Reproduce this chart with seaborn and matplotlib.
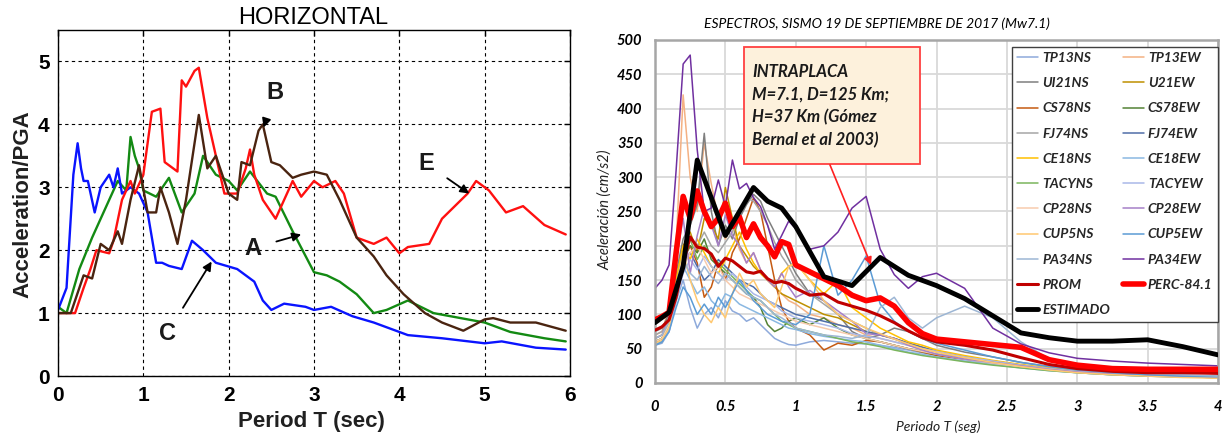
import matplotlib
matplotlib.use("Agg")
import matplotlib.pyplot as plt
import seaborn as sns
from matplotlib.patches import Rectangle
from matplotlib.font_manager import FontProperties

sns.set_theme(style="white")
plt.rcParams["font.family"] = ["Liberation Sans", "DejaVu Sans"]

# ---------------- LEFT PANEL DATA (Acceleration/PGA vs Period) ----------------
A_T = [0, 0.1, 0.25, 0.4, 0.5, 0.6, 0.7, 0.8, 0.85, 0.9,
       0.95, 1.0, 1.15, 1.3, 1.45, 1.6, 1.7, 1.85, 2.0, 2.1,
       2.25, 2.45, 2.55, 2.75, 3.0, 3.15, 3.3, 3.5, 3.7, 3.85,
       4.1, 4.4, 4.8, 5.0, 5.3, 5.7, 5.95]
A_V = [1.1, 1.0, 1.7, 2.2, 2.5, 2.8, 3.1, 2.95, 3.8, 3.5,
       3.3, 2.95, 2.85, 3.15, 2.6, 2.9, 3.5, 3.2, 3.1, 2.95,
       3.25, 2.9, 2.85, 2.3, 1.65, 1.6, 1.5, 1.3, 1.0, 1.05,
       1.2, 1.0, 0.9, 0.85, 0.7, 0.6, 0.55]

B_T = [0, 0.15, 0.3, 0.4, 0.5, 0.6, 0.7, 0.75, 0.85, 0.95,
       1.05, 1.15, 1.2, 1.3, 1.4, 1.5, 1.65, 1.75, 1.85, 2.0,
       2.1, 2.15, 2.25, 2.35, 2.4, 2.5, 2.6, 2.75, 2.85, 3.0,
       3.15, 3.3, 3.5, 3.7, 3.85, 4.05, 4.3, 4.5, 4.75, 5.0,
       5.1, 5.3, 5.6, 5.95]
B_V = [1.0, 1.0, 1.6, 1.55, 2.1, 2.0, 2.3, 2.1, 2.8, 3.35,
       2.6, 2.6, 3.0, 2.6, 2.1, 2.8, 4.15, 3.3, 3.5, 2.9,
       2.8, 3.4, 3.35, 3.9, 4.0, 3.4, 3.35, 3.15, 3.2, 3.25,
       3.2, 2.8, 2.2, 1.9, 1.6, 1.3, 1.0, 0.85, 0.72, 0.9,
       0.92, 0.85, 0.85, 0.72]

C_T = [0, 0.1, 0.18, 0.23, 0.27, 0.3, 0.35, 0.43, 0.5, 0.6,
       0.65, 0.7, 0.75, 0.85, 0.95, 1.05, 1.15, 1.22, 1.3, 1.45,
       1.57, 1.7, 1.85, 2.1, 2.3, 2.4, 2.5, 2.65, 2.9, 3.0,
       3.2, 3.45, 3.7, 3.9, 4.1, 4.5, 5.0, 5.2, 5.6, 5.95]
C_V = [1.05, 1.4, 3.2, 3.7, 3.3, 3.1, 3.1, 2.6, 3.0, 3.2,
       3.0, 3.3, 2.9, 3.0, 2.9, 2.6, 1.8, 1.8, 1.75, 1.7,
       2.15, 2.0, 1.8, 1.7, 1.5, 1.2, 1.05, 1.15, 1.1, 1.05,
       1.1, 0.95, 0.85, 0.75, 0.65, 0.6, 0.52, 0.55, 0.45, 0.42]

E_T = [0, 0.2, 0.3, 0.38, 0.45, 0.6, 0.65, 0.75, 0.85, 0.9,
       1.0, 1.1, 1.2, 1.25, 1.4, 1.45, 1.5, 1.6, 1.65, 1.75,
       1.85, 1.95, 2.1, 2.2, 2.25, 2.3, 2.4, 2.55, 2.65, 2.75,
       2.85, 3.0, 3.1, 3.25, 3.35, 3.5, 3.7, 3.85, 4.0, 4.1,
       4.35, 4.5, 4.65, 4.8, 4.9, 5.05, 5.25, 5.45, 5.7, 5.95]
E_V = [1.0, 1.0, 1.4, 1.7, 2.0, 1.95, 2.15, 2.8, 3.1, 2.9,
       3.2, 4.2, 4.25, 3.4, 3.25, 4.7, 4.6, 4.85, 4.9, 4.1,
       3.5, 2.9, 2.9, 3.3, 3.6, 3.2, 2.8, 2.5, 2.8, 3.1,
       2.85, 3.1, 3.0, 3.1, 2.9, 2.2, 2.1, 2.2, 1.95, 2.05,
       2.1, 2.5, 2.7, 2.9, 3.1, 2.95, 2.6, 2.7, 2.4, 2.25]

LEFT_X_TICKS = [0, 1, 2, 3, 4, 5, 6]
LEFT_Y_TICKS = [0, 1, 2, 3, 4, 5]

# ---------------- RIGHT PANEL DATA (spectra, cm/s2 vs period) ----------------
T = [0.0, 0.05, 0.1, 0.15, 0.2, 0.25, 0.3, 0.35, 0.4, 0.45,
     0.5, 0.55, 0.6, 0.65, 0.7, 0.75, 0.8, 0.85, 0.9, 0.95,
     1.0, 1.1, 1.2, 1.3, 1.4, 1.5, 1.6, 1.7, 1.8, 1.9,
     2.0, 2.2, 2.4, 2.6, 2.8, 3.0, 3.25, 3.5, 3.75, 4.0]

TP13NS = [55, 58, 75, 120, 150, 110, 80, 100, 110, 95,
          120, 105, 100, 90, 95, 85, 75, 65, 60, 56,
          55, 60, 62, 60, 58, 57, 55, 52, 48, 44,
          40, 34, 28, 23, 19, 15, 12, 10, 9, 8]
TP13EW = [70, 75, 110, 200, 420, 300, 250, 350, 290, 240,
          210, 230, 195, 175, 190, 165, 150, 140, 130, 120,
          115, 100, 95, 85, 80, 70, 65, 60, 55, 50,
          45, 38, 30, 25, 20, 16, 13, 11, 9, 8]
UI21NS = [75, 80, 100, 160, 210, 230, 260, 364, 250, 200,
          230, 210, 240, 260, 275, 265, 240, 220, 200, 180,
          160, 130, 120, 100, 75, 65, 70, 80, 75, 65,
          55, 45, 38, 30, 24, 19, 15, 12, 11, 10]
U21EW = [65, 70, 90, 150, 200, 220, 190, 240, 230, 210,
         285, 240, 200, 185, 170, 160, 150, 140, 130, 125,
         120, 110, 100, 95, 85, 75, 70, 65, 58, 52,
         46, 38, 32, 26, 21, 17, 14, 12, 10, 9]
CS78NS = [60, 65, 85, 140, 180, 200, 175, 125, 140, 175,
          150, 190, 210, 240, 270, 250, 200, 150, 110, 90,
          80, 70, 48, 58, 55, 62, 60, 55, 50, 45,
          40, 35, 30, 25, 20, 16, 13, 11, 9, 8]
CS78EW = [55, 60, 80, 130, 180, 200, 190, 210, 180, 170,
          160, 150, 140, 130, 125, 110, 85, 75, 80, 90,
          95, 85, 95, 80, 70, 65, 60, 55, 50, 46,
          42, 36, 30, 25, 20, 16, 13, 11, 9, 8]
FJ74NS = [70, 75, 95, 150, 190, 210, 200, 220, 200, 190,
          205, 220, 250, 270, 265, 250, 230, 205, 185, 170,
          150, 130, 115, 100, 90, 80, 70, 64, 57, 51,
          46, 38, 32, 26, 21, 17, 14, 12, 10, 9]
FJ74EW = [60, 65, 85, 140, 175, 190, 170, 150, 160, 180,
          170, 160, 150, 145, 140, 130, 120, 115, 110, 105,
          100, 95, 90, 85, 80, 75, 70, 65, 58, 52,
          46, 38, 32, 26, 21, 17, 14, 12, 10, 9]
CE18NS = [60, 65, 90, 150, 200, 180, 210, 190, 170, 160,
          180, 200, 220, 195, 175, 160, 150, 140, 160, 170,
          175, 150, 130, 150, 110, 95, 80, 70, 60, 55,
          48, 40, 33, 27, 22, 17, 14, 12, 10, 9]
CE18EW = [55, 60, 80, 130, 170, 150, 130, 140, 120, 110,
          130, 125, 115, 110, 105, 100, 95, 90, 85, 80,
          78, 72, 68, 65, 62, 60, 55, 50, 45, 42,
          38, 32, 27, 22, 18, 15, 12, 10, 9, 8]
TACYNS = [60, 65, 85, 140, 190, 210, 180, 200, 185, 175,
          165, 155, 145, 135, 125, 120, 110, 100, 90, 85,
          80, 75, 70, 65, 60, 57, 53, 48, 44, 40,
          37, 31, 26, 22, 18, 15, 12, 10, 9, 8]
TACYEW = [55, 60, 75, 120, 160, 180, 165, 185, 170, 160,
          150, 160, 150, 140, 130, 125, 120, 115, 105, 100,
          95, 90, 85, 80, 72, 68, 65, 60, 55, 50,
          46, 38, 32, 26, 21, 17, 14, 12, 10, 9]
CP28NS = [60, 65, 85, 130, 170, 190, 200, 180, 160, 170,
          150, 140, 130, 125, 120, 115, 110, 105, 100, 95,
          90, 85, 80, 75, 70, 65, 60, 55, 50, 46,
          42, 35, 29, 24, 20, 16, 13, 11, 9, 8]
CP28EW = [65, 70, 95, 180, 240, 160, 215, 255, 230, 200,
          245, 215, 200, 175, 190, 165, 150, 140, 160, 140,
          125, 135, 120, 105, 90, 72, 70, 65, 55, 48,
          42, 35, 30, 25, 20, 16, 13, 11, 10, 9]
CUP5NS = [58, 62, 80, 140, 190, 150, 120, 100, 88, 110,
          95, 130, 160, 140, 150, 130, 120, 110, 140, 170,
          175, 150, 120, 100, 90, 80, 72, 64, 57, 50,
          45, 37, 30, 24, 19, 15, 12, 10, 8, 7]
CUP5EW = [55, 60, 75, 110, 140, 125, 100, 115, 100, 125,
          110, 130, 150, 135, 120, 110, 100, 95, 90, 88,
          85, 100, 200, 128, 150, 185, 115, 90, 75, 65,
          58, 48, 38, 30, 24, 19, 15, 12, 10, 9]
PA34NS = [65, 70, 90, 145, 180, 160, 150, 170, 155, 145,
          160, 150, 140, 130, 125, 120, 110, 100, 95, 88,
          80, 75, 70, 68, 65, 70, 110, 125, 95, 80,
          95, 112, 95, 60, 35, 25, 18, 14, 12, 10]
PA34EW = [138, 150, 172, 310, 465, 478, 340, 250, 255, 296,
          257, 325, 283, 291, 270, 257, 230, 195, 215, 236,
          225, 195, 200, 220, 255, 272, 195, 158, 138, 155,
          160, 138, 80, 57, 44, 36, 32, 29, 27, 25]
PROM = [77, 82, 92, 125, 175, 213, 198, 196, 188, 170,
        182, 178, 170, 162, 160, 163, 152, 146, 148, 145,
        138, 128, 130, 118, 112, 106, 98, 88, 76, 66,
        60, 55, 48, 37, 27, 21, 17, 15, 15, 14]
PERC841 = [92, 97, 103, 190, 272, 240, 280, 250, 228, 240,
           262, 228, 242, 212, 232, 212, 200, 184, 206, 202,
           172, 162, 152, 142, 128, 120, 124, 112, 88, 72,
           64, 60, 56, 52, 34, 26, 21, 20, 20, 20]

EST_T = [0, 0.1, 0.2, 0.3, 0.5, 0.7, 0.8, 0.9, 1.0, 1.2, 1.4, 1.6,
         1.8, 2.0, 2.2, 2.4, 2.6, 2.8, 3.0, 3.25, 3.5, 3.75, 4.0]
ESTIMADO = [88, 103, 170, 325, 215, 285, 265, 255, 228, 155, 142, 183,
            157, 142, 123, 98, 73, 66, 61, 61, 63, 53, 41]

STATION_NAMES = ["TP13NS", "TP13EW", "UI21NS", "U21EW", "CS78NS", "CS78EW",
                 "FJ74NS", "FJ74EW", "CE18NS", "CE18EW", "TACYNS", "TACYEW",
                 "CP28NS", "CP28EW", "CUP5NS", "CUP5EW", "PA34NS", "PA34EW"]
STATION_VALUES = [TP13NS, TP13EW, UI21NS, U21EW, CS78NS, CS78EW,
                  FJ74NS, FJ74EW, CE18NS, CE18EW, TACYNS, TACYEW,
                  CP28NS, CP28EW, CUP5NS, CUP5EW, PA34NS, PA34EW]
STATION_COLORS = ["#8eaadb", "#f4b183", "#7f7f7f", "#bf9000", "#c55a11", "#548235",
                  "#a5a5a5", "#4f6ea8", "#ffc000", "#8ab8e2", "#7ab55c", "#a9b8e8",
                  "#f8cbad", "#a680c8", "#ffc870", "#5b9bd5", "#9db6d4", "#7030a0"]

RIGHT_X_TICKS = [0, 0.5, 1, 1.5, 2, 2.5, 3, 3.5, 4]
RIGHT_X_LABELS = ["0", "0.5", "1", "1.5", "2", "2.5", "3", "3.5", "4"]
RIGHT_Y_TICKS = [0, 50, 100, 150, 200, 250, 300, 350, 400, 450, 500]

# ---------------- FIGURE ----------------
fig = plt.figure(figsize=(12.24, 4.37), dpi=100)
axL = fig.add_axes([58 / 1224, 61 / 437, 512 / 1224, 346 / 437])
axR = fig.add_axes([655 / 1224, 54 / 437, 563 / 1224, 343 / 437])

# ----- left panel -----
left_series = [(A_T, A_V, "#138a13"), (C_T, C_V, "#0a14ff"),
               (E_T, E_V, "#ff1010"), (B_T, B_V, "#4a2410")]
for t, v, c in left_series:
    sns.lineplot(x=t, y=v, ax=axL, color=c, linewidth=1.7, legend=False)

axL.set_xlim(0, 6)
axL.set_ylim(0, 5.5)
axL.set_xticks(LEFT_X_TICKS)
axL.set_yticks(LEFT_Y_TICKS)
axL.grid(True, color="black", linestyle=(0, (3, 3)), linewidth=0.8)
for s in axL.spines.values():
    s.set_color("black")
    s.set_linewidth(1.0)
    s.set_visible(True)
axL.tick_params(direction="in", length=4, width=1, top=True, right=True,
                labelsize=15, colors="black")
axL.tick_params(axis="x", pad=7)
axL.tick_params(axis="y", pad=6)
for lab in axL.get_xticklabels() + axL.get_yticklabels():
    lab.set_fontweight("bold")
axL.set_xlabel("")
axL.set_ylabel("")

arrow_k = dict(arrowstyle="-|>", color="black", lw=1.3, mutation_scale=13,
               shrinkA=9, shrinkB=0)
txt_k = dict(ha="center", va="center", fontsize=17, fontweight="bold", color="#1a1a1a")
axL.annotate("B", xy=(2.41, 3.95), xytext=(2.54, 4.5), arrowprops=arrow_k, **txt_k)
axL.annotate("E", xy=(4.82, 2.9), xytext=(4.31, 3.38), arrowprops=arrow_k, **txt_k)
axL.annotate("A", xy=(2.85, 2.25), xytext=(2.28, 2.03), arrowprops=arrow_k, **txt_k)
axL.annotate("C", xy=(1.8, 1.82), xytext=(1.28, 0.68), arrowprops=arrow_k, **txt_k)

fig.text(313 / 1224, 1 - 18 / 437, "HORIZONTAL", ha="center", va="center",
         fontsize=17, color="black")
fig.text(311 / 1224, 1 - 422 / 437, "Period T (sec)", ha="center", va="center",
         fontsize=16, fontweight="bold", color="#202020")
fig.text(23 / 1224, 1 - 204 / 437, "Acceleration/PGA", ha="center", va="center",
         rotation=90, fontsize=16, fontweight="bold", color="#202020")

# ----- right panel -----
for name, vals, col in zip(STATION_NAMES, STATION_VALUES, STATION_COLORS):
    sns.lineplot(x=T, y=vals, ax=axR, color=col, linewidth=1.1, label=name,
                 legend=False, zorder=2)
sns.lineplot(x=T, y=PROM, ax=axR, color="#c00000", linewidth=2.2, label="PROM",
             legend=False, zorder=3)
sns.lineplot(x=T, y=PERC841, ax=axR, color="#ff0000", linewidth=4.0,
             label="PERC-84.1", legend=False, zorder=4)
sns.lineplot(x=EST_T, y=ESTIMADO, ax=axR, color="black", linewidth=3.5,
             label="ESTIMADO", legend=False, zorder=5)

axR.set_xlim(0, 4)
axR.set_ylim(0, 500)
axR.set_xticks(RIGHT_X_TICKS)
axR.set_xticklabels(RIGHT_X_LABELS)
axR.set_yticks(RIGHT_Y_TICKS)
axR.set_axisbelow(True)
axR.grid(True, color="#d9d9d9", linewidth=1.3)
for s in axR.spines.values():
    s.set_visible(True)
    s.set_color("#a6a6a6")
    s.set_linewidth(1.8)
axR.tick_params(length=0, labelsize=10.5, colors="black")
axR.tick_params(axis="x", pad=12)
axR.tick_params(axis="y", pad=9)
for lab in axR.get_xticklabels() + axR.get_yticklabels():
    lab.set_fontfamily(["Lato", "DejaVu Sans"])
    lab.set_fontstyle("italic")
    lab.set_fontweight("bold")
axR.set_xlabel("")
axR.set_ylabel("")

# legend, row order as in reference (two columns)
h, l = axR.get_legend_handles_labels()
hd = dict(zip(l, h))
col1 = ["TP13NS", "UI21NS", "CS78NS", "FJ74NS", "CE18NS", "TACYNS", "CP28NS",
        "CUP5NS", "PA34NS", "PROM", "ESTIMADO"]
col2 = ["TP13EW", "U21EW", "CS78EW", "FJ74EW", "CE18EW", "TACYEW", "CP28EW",
        "CUP5EW", "PA34EW", "PERC-84.1"]
order = col1 + col2
leg = axR.legend([hd[k] for k in order], order, ncol=2, loc="upper right",
                 bbox_to_anchor=(1.0, 0.981),
                 prop=FontProperties(family=["Lato", "DejaVu Sans"], style="italic",
                                     weight="bold", size=10),
                 frameon=True, fancybox=False, edgecolor="#404040", framealpha=1,
                 borderpad=0.4, labelspacing=0.95, handlelength=1.5,
                 handletextpad=0.3, columnspacing=0.9, borderaxespad=0)
leg.get_frame().set_linewidth(1.0)
leg.set_zorder(20)

# annotation box
axR.add_patch(Rectangle((0.632, 319), 1.883 - 0.632, 490 - 319,
                        facecolor="#fdf1dc", edgecolor="#ff4040", lw=1.3, zorder=8))
axR.text(0.689, 403, "INTRAPLACA\nM=7.1, D=125 Km;\nH=37 Km (Gómez\nBernal et al 2003)",
         ha="left", va="center", fontsize=12, fontfamily=["Lato", "DejaVu Sans"],
         fontstyle="italic", fontweight="bold", linespacing=1.5, color="#1a1a1a",
         zorder=9)
axR.annotate("", xy=(1.535, 172), xytext=(1.243, 318),
             arrowprops=dict(arrowstyle="-|>", color="#ff2020", lw=1.2,
                             mutation_scale=11, shrinkA=0, shrinkB=0), zorder=9)

fig.text(877 / 1224, 1 - 24 / 437, "ESPECTROS, SISMO 19 DE SEPTIEMBRE DE 2017 (Mw7.1)",
         ha="center", va="center", fontsize=10, fontfamily=["Lato", "DejaVu Sans"],
         fontstyle="italic", color="black")
fig.text(938 / 1224, 1 - 427 / 437, "Periodo T (seg)", ha="center", va="center",
         fontsize=10, fontfamily=["Lato", "DejaVu Sans"], fontstyle="italic",
         color="#202020")
fig.text(605 / 1224, 1 - 210 / 437, "Aceleración (cm/s2)", ha="center", va="center",
         rotation=90, fontsize=10.5, fontfamily=["Lato", "DejaVu Sans"],
         fontstyle="italic", color="#202020")

fig.savefig("out.png", dpi=100)
